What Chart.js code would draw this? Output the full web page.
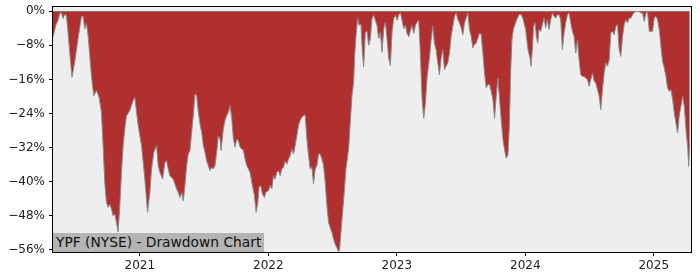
<!DOCTYPE html>
<html>
<head>
<meta charset="utf-8">
<script src="https://cdn.jsdelivr.net/npm/chart.js@4"></script>
<style>
  body { margin: 0; background: #fff; }
  #wrap { position: relative; width: 700px; height: 280px; }
  #label {
    position: absolute; left: 53px; top: 233px; height: 19px; padding: 0 3px 0 3px;
    background: #b4b4b4; color: #111; font: 13.8px "DejaVu Sans", sans-serif; line-height: 19px;
    white-space: nowrap;
  }
</style>
</head>
<body>
<div id="wrap">
  <canvas id="myChart" width="700" height="280"></canvas>
  <div id="label">YPF (NYSE) - Drawdown Chart</div>
</div>
<script>
// dates as decimal years, drawdown in percent
var dates = [
  2020.324, 2020.337, 2020.345, 2020.363, 2020.376, 2020.389, 2020.402, 2020.415, 2020.428, 2020.441,
  2020.454, 2020.472, 2020.493, 2020.519, 2020.545, 2020.558, 2020.571, 2020.584, 2020.597, 2020.610,
  2020.623, 2020.641, 2020.662, 2020.683, 2020.701, 2020.714, 2020.727, 2020.740, 2020.753, 2020.766,
  2020.779, 2020.792, 2020.805, 2020.818, 2020.831, 2020.844, 2020.857, 2020.870, 2020.883, 2020.896,
  2020.922, 2020.948, 2020.961, 2020.974, 2020.987, 2021.000, 2021.013, 2021.039, 2021.060, 2021.078,
  2021.091, 2021.109, 2021.130, 2021.143, 2021.156, 2021.177, 2021.195, 2021.208, 2021.221, 2021.234,
  2021.260, 2021.286, 2021.299, 2021.312, 2021.325, 2021.338, 2021.351, 2021.364, 2021.377, 2021.390,
  2021.403, 2021.416, 2021.429, 2021.442, 2021.455, 2021.468, 2021.481, 2021.494, 2021.507, 2021.520,
  2021.533, 2021.546, 2021.559, 2021.572, 2021.585, 2021.598, 2021.611, 2021.624, 2021.632, 2021.650,
  2021.663, 2021.676, 2021.689, 2021.702, 2021.715, 2021.728, 2021.741, 2021.754, 2021.767, 2021.780,
  2021.793, 2021.806, 2021.819, 2021.832, 2021.845, 2021.858, 2021.876, 2021.892, 2021.905, 2021.918,
  2021.928, 2021.941, 2021.954, 2021.970, 2021.980, 2022.001, 2022.014, 2022.027, 2022.040, 2022.053,
  2022.066, 2022.079, 2022.092, 2022.105, 2022.118, 2022.131, 2022.144, 2022.157, 2022.170, 2022.183,
  2022.196, 2022.209, 2022.222, 2022.235, 2022.248, 2022.261, 2022.274, 2022.287, 2022.300, 2022.313,
  2022.326, 2022.339, 2022.352, 2022.365, 2022.378, 2022.391, 2022.404, 2022.417, 2022.430, 2022.443,
  2022.456, 2022.469, 2022.482, 2022.495, 2022.508, 2022.521, 2022.534, 2022.545, 2022.554, 2022.565,
  2022.578, 2022.591, 2022.604, 2022.625, 2022.638, 2022.651, 2022.664, 2022.672, 2022.683, 2022.695,
  2022.708, 2022.721, 2022.732, 2022.742, 2022.755, 2022.768, 2022.781, 2022.794, 2022.807, 2022.820,
  2022.833, 2022.846, 2022.859, 2022.872, 2022.885, 2022.898, 2022.911, 2022.924, 2022.937, 2022.950,
  2022.963, 2022.976, 2022.989, 2023.002, 2023.015, 2023.028, 2023.041, 2023.054, 2023.067, 2023.080,
  2023.093, 2023.106, 2023.119, 2023.132, 2023.145, 2023.158, 2023.171, 2023.184, 2023.197, 2023.210,
  2023.223, 2023.236, 2023.254, 2023.267, 2023.280, 2023.293, 2023.306, 2023.319, 2023.332, 2023.345,
  2023.358, 2023.371, 2023.384, 2023.397, 2023.410, 2023.423, 2023.436, 2023.449, 2023.462, 2023.475,
  2023.488, 2023.501, 2023.514, 2023.527, 2023.540, 2023.553, 2023.566, 2023.579, 2023.592, 2023.605,
  2023.618, 2023.631, 2023.644, 2023.657, 2023.670, 2023.683, 2023.696, 2023.709, 2023.722, 2023.735,
  2023.748, 2023.761, 2023.774, 2023.787, 2023.800, 2023.813, 2023.826, 2023.839, 2023.852, 2023.865,
  2023.876, 2023.886, 2023.896, 2023.907, 2023.920, 2023.933, 2023.951, 2023.970, 2023.985, 2024.003,
  2024.021, 2024.037, 2024.045, 2024.055, 2024.065, 2024.076, 2024.086, 2024.097, 2024.107, 2024.120,
  2024.133, 2024.146, 2024.159, 2024.172, 2024.185, 2024.198, 2024.211, 2024.224, 2024.237, 2024.250,
  2024.263, 2024.276, 2024.289, 2024.302, 2024.315, 2024.328, 2024.341, 2024.354, 2024.367, 2024.380,
  2024.393, 2024.406, 2024.419, 2024.432, 2024.445, 2024.458, 2024.471, 2024.484, 2024.497, 2024.510,
  2024.523, 2024.536, 2024.549, 2024.562, 2024.575, 2024.588, 2024.601, 2024.614, 2024.627, 2024.640,
  2024.653, 2024.666, 2024.679, 2024.692, 2024.705, 2024.718, 2024.731, 2024.744, 2024.757, 2024.770,
  2024.783, 2024.796, 2024.809, 2024.822, 2024.835, 2024.848, 2024.861, 2024.874, 2024.887, 2024.900,
  2024.913, 2024.926, 2024.939, 2024.952, 2024.965, 2024.978, 2024.991, 2025.004, 2025.017, 2025.030,
  2025.043, 2025.056, 2025.069, 2025.082, 2025.095, 2025.108, 2025.121, 2025.134, 2025.147, 2025.160,
  2025.173, 2025.186, 2025.199, 2025.212, 2025.225, 2025.238, 2025.251, 2025.264, 2025.272, 2025.280
];
var drawdown = [
  -6.0, -4.5, -3.3, -2.1, -0.5, -0.3, -1.7, -0.8, -0.9, -4.9,
  -9.6, -15.5, -11.9, -6.4, -1.3, -1.1, -4.1, -2.9, -5.6, -10.4,
  -15.1, -19.8, -18.6, -20.2, -23.7, -31.5, -40.2, -44.9, -46.0, -45.3,
  -46.4, -48.0, -47.6, -49.6, -51.8, -45.6, -37.8, -31.5, -27.6, -24.5,
  -23.3, -20.9, -20.2, -23.7, -26.8, -29.2, -31.5, -39.4, -47.2, -42.5,
  -37.0, -33.1, -31.5, -36.2, -37.8, -39.4, -35.5, -35.1, -37.0, -38.6,
  -39.4, -41.7, -42.5, -43.7, -42.5, -44.5, -40.9, -36.2, -33.5, -32.7,
  -28.4, -24.5, -19.4, -19.8, -23.7, -26.4, -28.4, -31.5, -33.1, -35.1,
  -36.2, -37.4, -36.6, -37.0, -36.2, -33.1, -29.2, -30.0, -32.7, -27.6,
  -25.6, -24.5, -23.7, -22.1, -25.0, -29.9, -31.9, -30.0, -30.4, -31.9,
  -32.3, -32.7, -34.7, -36.2, -37.0, -37.8, -40.9, -43.3, -47.2, -44.9,
  -41.3, -40.9, -42.9, -43.7, -42.5, -42.1, -40.9, -41.7, -38.6, -39.4,
  -37.8, -37.4, -38.6, -37.0, -36.6, -35.1, -35.9, -34.7, -33.9, -32.3,
  -33.5, -31.5, -29.2, -26.8, -25.6, -24.9, -24.5, -24.3, -30.0, -33.9,
  -37.0, -36.6, -40.5, -37.0, -36.2, -33.5, -33.5, -34.7, -36.2, -40.2,
  -45.6, -49.6, -50.8, -51.9, -53.5, -54.7, -55.5, -56.3, -56.2, -51.9,
  -47.2, -42.5, -37.0, -32.3, -26.0, -19.8, -16.6, -10.4, -5.6, -1.7,
  -3.3, -3.0, -9.6, -13.1, -4.9, -4.7, -8.0, -6.4, -1.7, -0.9,
  -2.1, -3.3, -6.4, -4.9, -9.6, -4.1, -2.5, -6.4, -11.1, -12.7,
  -4.9, -1.7, -0.9, -2.1, -0.9, -0.3, -2.1, -4.1, -3.3, -5.2,
  -6.0, -4.5, -3.3, -5.2, -3.3, -2.5, -2.1, -10.4, -20.7, -25.1,
  -21.5, -15.3, -11.0, -6.7, -3.5, -7.5, -9.0, -12.1, -14.9, -11.0,
  -9.0, -13.7, -12.9, -12.1, -9.8, -5.9, -3.5, -1.2, -0.4, -1.9,
  -2.7, -3.9, -5.5, -2.7, -1.6, -0.4, -4.3, -5.9, -8.6, -7.8,
  -7.5, -6.3, -5.1, -5.5, -9.8, -14.5, -18.0, -17.2, -17.2, -18.8,
  -20.7, -25.1, -19.9, -15.7, -20.7, -25.5, -30.1, -32.5, -34.5, -33.7,
  -27.0, -14.5, -6.7, -4.3, -3.1, -2.0, -0.8, -0.8, -2.0, -4.3,
  -9.0, -11.0, -12.9, -9.0, -3.5, -2.7, -5.9, -7.5, -4.3, -4.7,
  -3.1, -1.6, -3.9, -2.0, -4.3, -2.0, -0.4, -1.2, -1.6, -0.8,
  -0.8, -2.0, -9.0, -5.1, -2.7, -0.8, -0.4, -2.7, -4.7, -5.9,
  -9.8, -6.7, -11.4, -14.9, -15.3, -15.3, -15.7, -16.0, -17.6, -16.0,
  -14.5, -16.4, -16.8, -18.4, -19.9, -23.1, -18.4, -14.5, -12.1, -12.9,
  -11.4, -5.1, -4.7, -5.5, -3.5, -3.1, -9.0, -10.6, -5.9, -3.1,
  -2.0, -2.7, -1.6, -1.6, -0.8, -0.3, 0.0, -0.1, -0.1, -0.4,
  -0.4, -2.4, -0.4, -0.2, -4.7, -4.7, -4.7, -1.6, -1.2, -2.0,
  -4.3, -8.2, -11.8, -13.3, -15.3, -18.0, -18.8, -18.4, -20.7, -23.9,
  -26.2, -28.6, -24.3, -22.3, -19.9, -22.3, -27.8, -31.7, -36.4, -30.9
];
var yTicks = [0, -8, -16, -24, -32, -40, -48, -56];
var xTicks = [2021, 2022, 2023, 2024, 2025];

var points = dates.map(function (d, i) { return { x: d, y: drawdown[i] }; });

var frame = {
    id: "frame",
    beforeDraw: function (chart) {
        var a = chart.chartArea, ctx = chart.ctx;
        ctx.save();
        ctx.fillStyle = "#eeeeee";
        ctx.fillRect(a.left, a.top, a.right - a.left, a.bottom - a.top);
        ctx.restore();
    },
    afterDraw: function (chart) {
        var a = chart.chartArea, ctx = chart.ctx;
        ctx.save();
        ctx.strokeStyle = "#000";
        ctx.lineWidth = 1;
        ctx.strokeRect(a.left - 0.5, a.top - 0.5, a.right - a.left + 1, a.bottom - a.top + 1);
        ctx.restore();
    }
};

new Chart("myChart", {
    type: "line",
    data: {
        datasets: [{
            data: points,
            fill: "origin",
            backgroundColor: "#b03030",
            borderColor: "#8a8a8a",
            borderWidth: 1,
            pointRadius: 0,
            tension: 0
        }]
    },
    options: {
        responsive: false,
        animation: false,
        devicePixelRatio: 1,
        layout: { padding: { top: 7, right: 9, left: 0, bottom: 0 } },
        plugins: { legend: { display: false }, tooltip: { enabled: false } },
        scales: {
            x: {
                type: "linear",
                min: 2020.324,
                max: 2025.29,
                afterBuildTicks: function (s) { s.ticks = xTicks.map(function (v) { return { value: v }; }); },
                afterFit: function (s) { s.height = 28; s.paddingLeft = 0; s.paddingRight = 0; },
                grid: { drawOnChartArea: false, tickLength: 4, color: "#000" },
                border: { display: false },
                ticks: {
                    color: "#222", padding: 3, maxRotation: 0,
                    font: { family: "DejaVu Sans", size: 12 },
                    callback: function (v) { return String(v); }
                }
            },
            y: {
                min: -56.5,
                max: 1.0,
                afterBuildTicks: function (s) { s.ticks = yTicks.map(function (v) { return { value: v }; }); },
                afterFit: function (s) { s.width = 53; s.paddingTop = 0; s.paddingBottom = 0; },
                grid: { drawOnChartArea: false, tickLength: 4, color: "#000" },
                border: { display: false },
                ticks: {
                    color: "#222", padding: 4,
                    font: { family: "DejaVu Sans", size: 12 },
                    callback: function (v) { return v === 0 ? "0%" : "\u2212" + Math.abs(v) + "%"; }
                }
            }
        }
    },
    plugins: [frame]
});
</script>
</body>
</html>
